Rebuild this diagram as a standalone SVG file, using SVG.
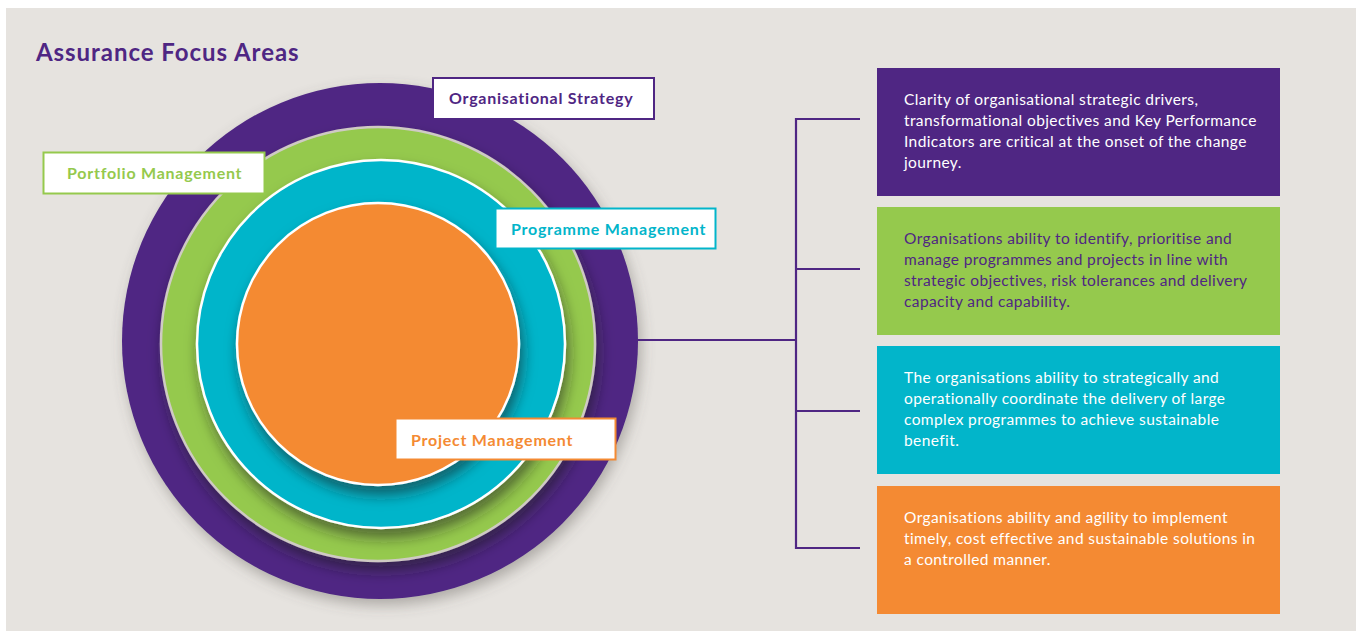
<svg xmlns="http://www.w3.org/2000/svg" width="1361" height="631" viewBox="0 0 1361 631">
<style>
  .title{font-family:Lato,"Liberation Sans",sans-serif;font-weight:700;font-size:24px;letter-spacing:0.95px;fill:#4F2683}
  .lbl{font-family:Lato,"Liberation Sans",sans-serif;font-weight:700;font-size:16px;letter-spacing:0.75px}
  .body{font-family:Lato,"Liberation Sans",sans-serif;font-size:15.5px;letter-spacing:0.4px}
  .conn{stroke:#4F2683;stroke-width:2.2;fill:none}
  .lblbox{fill:#ffffff;stroke-width:2}
</style>
<defs>
  <filter id="sh" x="-20%" y="-20%" width="140%" height="140%">
    <feDropShadow dx="3" dy="9" stdDeviation="7" flood-color="#1a1a1a" flood-opacity="0.55"/>
  </filter>
  <filter id="sh2" x="-20%" y="-20%" width="140%" height="140%">
    <feDropShadow dx="3" dy="6" stdDeviation="7" flood-color="#5a5550" flood-opacity="0.4"/>
  </filter>
</defs>
<rect x="6" y="8" width="1350" height="623" fill="#E6E3DF"/>
<text class="title" x="36" y="61">Assurance Focus Areas</text>

<g id="circles">
  <circle id="c-strategy" cx="380" cy="341" r="258" fill="#4F2683" filter="url(#sh2)"/>
  <circle id="c-portfolio" cx="378" cy="344" r="217" fill="#95C94D" stroke="#CFCAC4" stroke-width="2.5" filter="url(#sh)"/>
  <circle id="c-programme" cx="381" cy="344" r="184" fill="#02B5CA" stroke="#ffffff" stroke-width="2.5" filter="url(#sh)"/>
  <circle id="c-project" cx="378" cy="344" r="141" fill="#F48A33" stroke="#ffffff" stroke-width="2.5" filter="url(#sh)"/>
</g>

<g id="connectors">
  <path class="conn" d="M637 340 H796"/>
  <path class="conn" d="M860 119 H796 V548 H860"/>
  <path class="conn" d="M796 269 H860"/>
  <path class="conn" d="M796 411 H860"/>
</g>

<g id="label-strategy">
  <rect class="lblbox" x="433" y="78" width="221" height="41" stroke="#4F2683"/>
  <text class="lbl" x="449" y="103.5" fill="#4F2683">Organisational Strategy</text>
</g>
<g id="label-portfolio">
  <rect class="lblbox" x="43.5" y="152.5" width="221" height="41" stroke="#95C94D"/>
  <text class="lbl" x="67" y="178.5" fill="#95C94D">Portfolio Management</text>
</g>
<g id="label-programme">
  <rect class="lblbox" x="495.5" y="208.5" width="220" height="40" stroke="#02B5CA"/>
  <text class="lbl" x="511" y="235" fill="#02B5CA">Programme Management</text>
</g>
<g id="label-project">
  <rect class="lblbox" x="395.5" y="418.5" width="220" height="41" stroke="#F48A33"/>
  <text class="lbl" x="411" y="446" fill="#F48A33">Project Management</text>
</g>

<g id="box-strategy">
  <rect x="877" y="68" width="403" height="128" fill="#4F2683"/>
  <text class="body" fill="#ffffff">
    <tspan x="904" y="105">Clarity of organisational strategic drivers,</tspan>
    <tspan x="904" y="126">transformational objectives and Key Performance</tspan>
    <tspan x="904" y="147">Indicators are critical at the onset of the change</tspan>
    <tspan x="904" y="168">journey.</tspan>
  </text>
</g>
<g id="box-portfolio">
  <rect x="877" y="207" width="403" height="128" fill="#95C94D"/>
  <text class="body" fill="#4F2683">
    <tspan x="904" y="244">Organisations ability to identify, prioritise and</tspan>
    <tspan x="904" y="265">manage programmes and projects in line with</tspan>
    <tspan x="904" y="286">strategic objectives, risk tolerances and delivery</tspan>
    <tspan x="904" y="307">capacity and capability.</tspan>
  </text>
</g>
<g id="box-programme">
  <rect x="877" y="346" width="403" height="128" fill="#02B5CA"/>
  <text class="body" fill="#ffffff">
    <tspan x="904" y="383">The organisations ability to strategically and</tspan>
    <tspan x="904" y="404">operationally coordinate the delivery of large</tspan>
    <tspan x="904" y="425">complex programmes to achieve sustainable</tspan>
    <tspan x="904" y="446">benefit.</tspan>
  </text>
</g>
<g id="box-project">
  <rect x="877" y="486" width="403" height="128" fill="#F48A33"/>
  <text class="body" fill="#ffffff">
    <tspan x="904" y="523">Organisations ability and agility to implement</tspan>
    <tspan x="904" y="544">timely, cost effective and sustainable solutions in</tspan>
    <tspan x="904" y="565">a controlled manner.</tspan>
  </text>
</g>
</svg>
